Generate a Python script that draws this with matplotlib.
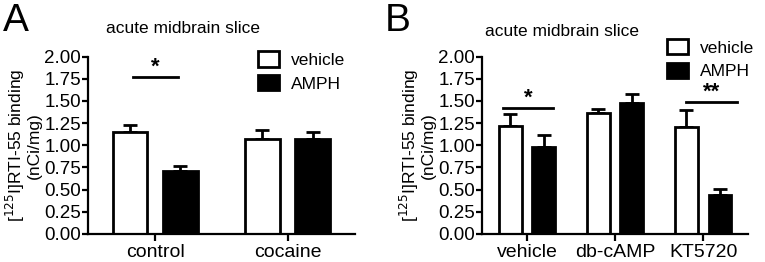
import matplotlib
matplotlib.use("Agg")
import matplotlib.pyplot as plt
import numpy as np

plt.rcParams['font.family'] = ['Liberation Sans', 'DejaVu Sans']

#---------------------------------------------------------------------------------------------------
# data
groups_a = ['control', 'cocaine']
vehicle_a = [1.15, 1.07]
vehicle_a_err = [0.08, 0.10]
amph_a = [0.71, 1.07]
amph_a_err = [0.06, 0.08]

groups_b = ['vehicle', 'db-cAMP', 'KT5720']
vehicle_b = [1.22, 1.36, 1.21]
vehicle_b_err = [0.13, 0.05, 0.19]
amph_b = [0.98, 1.48, 0.44]
amph_b_err = [0.14, 0.10, 0.07]

yticks = [0.0, 0.25, 0.5, 0.75, 1.0, 1.25, 1.5, 1.75, 2.0]
ylabel = '[$^{125}$I]RTI-55 binding\n(nCi/mg)'


#---------------------------------------------------------------------------------------------------
def draw_panel(ax, groups, veh, veh_err, amph, amph_err):
    x = np.arange(len(groups))
    w = 0.26
    off = 0.19
    ax.bar(x - off, veh, w, color='white', edgecolor='black', linewidth=2, label='vehicle', zorder=2)
    ax.bar(x + off, amph, w, color='black', edgecolor='black', linewidth=2, label='AMPH', zorder=2)
    ax.errorbar(x - off, veh, yerr=[np.zeros(len(veh)), veh_err], fmt='none',
                ecolor='black', elinewidth=2, capsize=5, capthick=2, zorder=1)
    ax.errorbar(x + off, amph, yerr=[np.zeros(len(amph)), amph_err], fmt='none',
                ecolor='black', elinewidth=2, capsize=5, capthick=2, zorder=1)

    ax.set_xlim(-0.51, len(groups) - 0.49)
    ax.set_ylim(0, 2.0)
    ax.set_yticks(yticks)
    ax.set_yticklabels(['%.2f' % v for v in yticks], fontsize=13.5)
    ax.set_xticks(x)
    ax.set_xticklabels(groups, fontsize=14)
    for s in ['top', 'right']:
        ax.spines[s].set_visible(False)
    for s in ['left', 'bottom']:
        ax.spines[s].set_linewidth(1.6)
    ax.tick_params(axis='both', direction='out', width=1.6, length=4, pad=1)
    ax.tick_params(axis='x', length=5, pad=2)
    ax.set_ylabel(ylabel, fontsize=12.5, labelpad=2, linespacing=0.95)


def sig(ax, x0, x1, y, text):
    ax.plot([x0, x1], [y, y], color='black', linewidth=2)
    ax.text((x0 + x1) / 2, y - 0.01, text, ha='center', va='bottom', fontsize=16, fontweight='bold')


fig = plt.figure(figsize=(7.65, 2.62), dpi=100)
ax1 = fig.add_axes([0.115, 0.107, 0.349, 0.677])
ax2 = fig.add_axes([0.630, 0.107, 0.348, 0.677])

draw_panel(ax1, groups_a, vehicle_a, vehicle_a_err, amph_a, amph_a_err)
draw_panel(ax2, groups_b, vehicle_b, vehicle_b_err, amph_b, amph_b_err)

sig(ax1, -0.17, 0.17, 1.77, '*')
sig(ax2, -0.27, 0.30, 1.42, '*')
sig(ax2, 1.80, 2.38, 1.49, '**')

for ax, bx, by in [(ax1, 0.637, 1.03), (ax2, 0.695, 1.10)]:
    ax.legend(loc='upper left', bbox_to_anchor=(bx, by), frameon=False, fontsize=12.5,
              borderpad=0, borderaxespad=0, handlelength=1.2, handleheight=1.0,
              handletextpad=0.7, labelspacing=0.4)

fig.text(0.004, 0.99, 'A', fontsize=28, va='top', ha='left')
fig.text(0.503, 0.99, 'B', fontsize=28, va='top', ha='left')
fig.text(0.139, 0.893, 'acute midbrain slice', fontsize=12.5, va='center', ha='left')
fig.text(0.634, 0.878, 'acute midbrain slice', fontsize=12.5, va='center', ha='left')

fig.savefig('out.png', dpi=100)
